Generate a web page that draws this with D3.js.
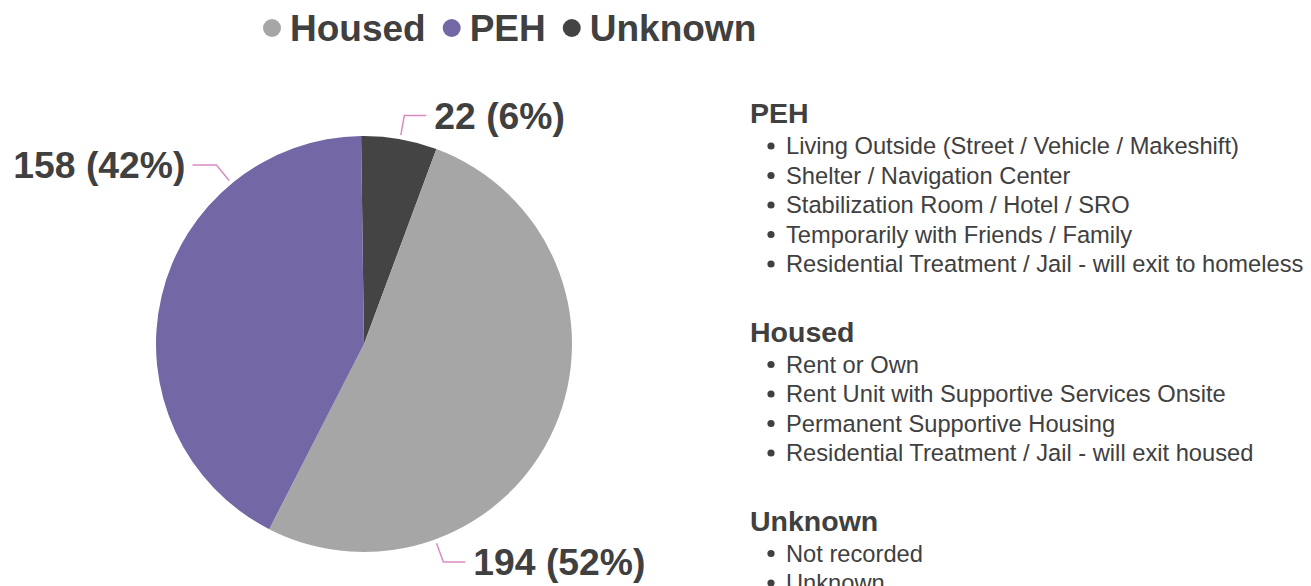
<!DOCTYPE html>
<html>
<head>
<meta charset="utf-8">
<script src="https://cdn.jsdelivr.net/npm/d3@7"></script>
<style>
  html, body { margin: 0; padding: 0; background: #fff; }
  svg { display: block; font-family: "Liberation Sans", Arial, sans-serif; }
</style>
</head>
<body>
<div id="chart"></div>
<script>
const W = 1311, H = 586;

// slices, in drawing order (clockwise from top)
const categories = ["Unknown", "Housed", "PEH"];
const counts = [22, 194, 158];
const colors = ["#444444", "#a6a6a6", "#7367a6"];

// legend order at the top
const legendOrder = ["Housed", "PEH", "Unknown"];

// descriptions on the right
const groupTitles = ["PEH", "Housed", "Unknown"];
const pehItems = [
    "Living Outside (Street / Vehicle / Makeshift)",
    "Shelter / Navigation Center",
    "Stabilization Room / Hotel / SRO",
    "Temporarily with Friends / Family",
    "Residential Treatment / Jail - will exit to homeless"
];
const housedItems = [
    "Rent or Own",
    "Rent Unit with Supportive Services Onsite",
    "Permanent Supportive Housing",
    "Residential Treatment / Jail - will exit housed"
];
const unknownItems = ["Not recorded", "Unknown"];

// where each leader line leaves the pie (degrees, clockwise from top)
const leaderAngle = { Unknown: 10, Housed: 160, PEH: 320.5 };

const textColor = "#404040";
const lineColor = "#d98cc2";

const svg = d3.select("#chart").append("svg")
    .attr("width", W)
    .attr("height", H);

const color = d3.scaleOrdinal().domain(categories).range(colors);
const total = d3.sum(counts);

// Pie
const cx = 364, cy = 344, R = 208;
const start = -0.8 * Math.PI / 180;
const pie = d3.pie().sort(null).startAngle(start).endAngle(start + 2 * Math.PI)
    .value(d => d.value);
const arc = d3.arc().innerRadius(0).outerRadius(R);

const slices = pie(categories.map((c, i) => ({ name: c, value: counts[i] })));

const gPie = svg.append("g").attr("transform", `translate(${cx},${cy})`);
gPie.selectAll("path")
    .data(slices)
    .join("path")
    .attr("d", arc)
    .attr("fill", d => color(d.data.name));

// Leader lines + labels
const pt = (deg, r) => {
    const a = deg * Math.PI / 180;
    return [r * Math.sin(a), -r * Math.cos(a)];
};

slices.forEach(d => {
    const ang = leaderAngle[d.data.name];
    const p0 = pt(ang, R + 4);
    const p1 = pt(ang, R + 24);
    const right = p1[0] >= 0;
    const p2 = [p1[0] + (right ? 22 : -24), p1[1]];
    gPie.append("polyline")
        .attr("points", [p0, p1, p2].map(p => p.join(",")).join(" "))
        .attr("fill", "none")
        .attr("stroke", lineColor)
        .attr("stroke-width", 1.5);
    const pct = Math.round(d.data.value / total * 100);
    gPie.append("text")
        .attr("x", p2[0] + (right ? 8 : -7))
        .attr("y", p2[1] + 13)
        .attr("text-anchor", right ? "start" : "end")
        .attr("font-size", 37.3)
        .attr("font-weight", "bold")
        .attr("fill", textColor)
        .text(`${d.data.value} (${pct}%)`);
});

// Legend
const legend = svg.append("g").attr("transform", "translate(263,28)");
let lx = 0;
legendOrder.forEach(name => {
    const g = legend.append("g").attr("transform", `translate(${lx},0)`);
    g.append("circle").attr("cx", 9).attr("cy", 0).attr("r", 9).attr("fill", color(name));
    const t = g.append("text")
        .attr("x", 27).attr("y", 13)
        .attr("font-size", 37).attr("font-weight", "bold")
        .attr("fill", textColor)
        .text(name);
    lx += 27 + t.node().getComputedTextLength() + 17;
});

// Right panel
const groups = [pehItems, housedItems, unknownItems];
const panelX = 750, lineH = 29.5;
let y = 123;
groups.forEach((items, gi) => {
    svg.append("text")
        .attr("x", panelX).attr("y", y)
        .attr("font-size", 28.5).attr("font-weight", "bold")
        .attr("fill", textColor)
        .text(groupTitles[gi]);
    y += 31;
    items.forEach(txt => {
        svg.append("circle")
            .attr("cx", panelX + 21).attr("cy", y - 8)
            .attr("r", 3.6).attr("fill", textColor);
        svg.append("text")
            .attr("x", panelX + 36).attr("y", y)
            .attr("font-size", 23.7)
            .attr("fill", textColor)
            .text(txt);
        y += lineH;
    });
    y += 40;
});
</script>
</body>
</html>
